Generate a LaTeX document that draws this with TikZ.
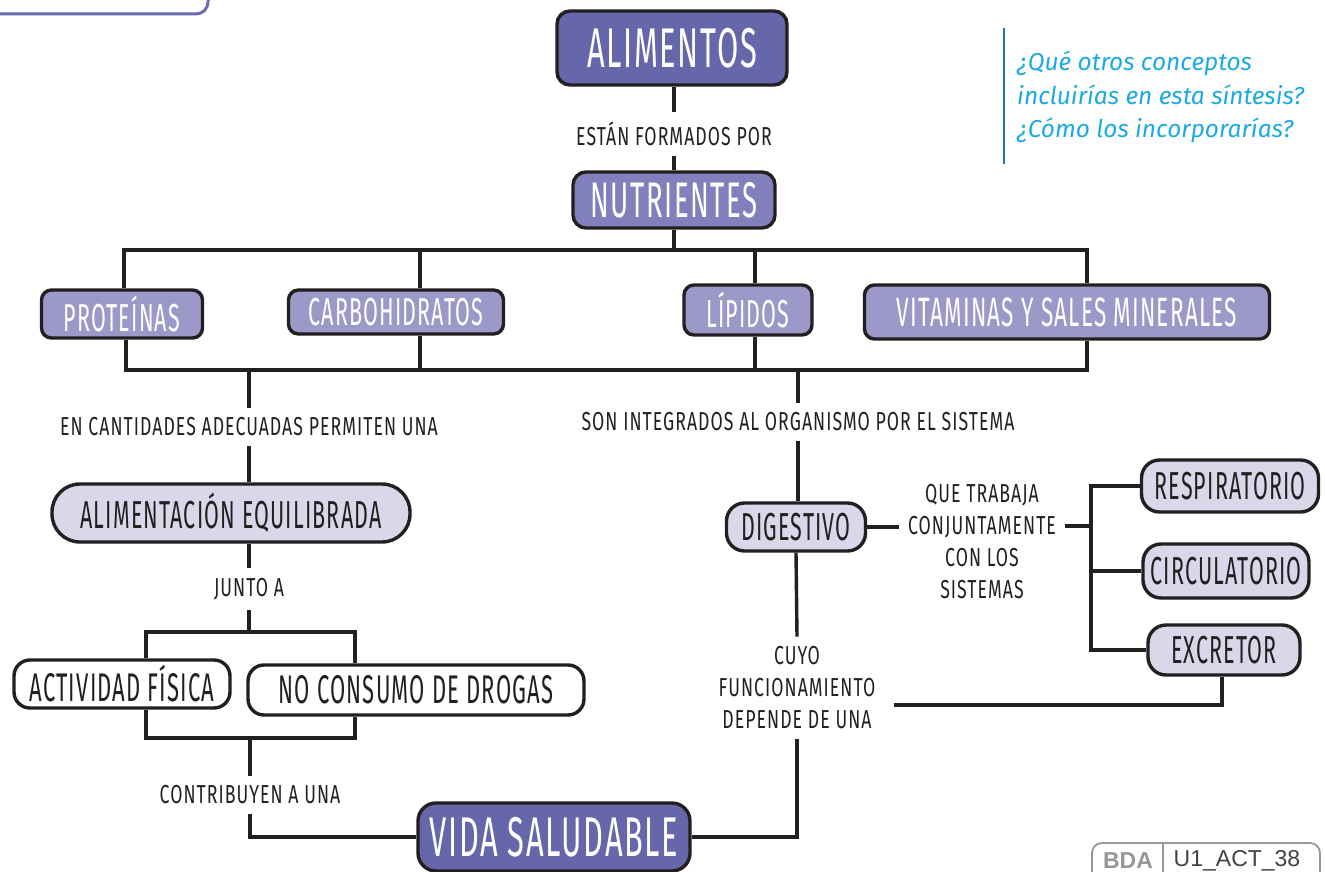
\documentclass[tikz,border=0pt]{standalone}
\usepackage{fontspec}
\setmainfont{Fira Sans}
\newfontfamily\handbox[FakeStretch=0.55,LetterSpace=3]{Fira Sans}
\newfontfamily\handlab[FakeStretch=0.68,LetterSpace=4]{Fira Sans}
\newfontfamily\qfont{Fira Sans}
\newfontfamily\tagfont{Liberation Sans}
\definecolor{ink}{RGB}{35,31,32}
\definecolor{cdark}{RGB}{101,103,170}
\definecolor{cnut}{RGB}{130,128,188}
\definecolor{cmed}{RGB}{156,152,200}
\definecolor{clight}{RGB}{217,216,235}
\definecolor{cpurp}{RGB}{107,107,176}
\definecolor{cq}{RGB}{29,169,225}
\definecolor{cbar}{RGB}{27,117,188}
\definecolor{cgray}{RGB}{150,150,150}
\tikzset{
  ln/.style={draw=ink, line width=3.4pt},
  bx/.style={draw=ink, line width=3.4pt, rounded corners=13pt, inner sep=0pt, align=center},
  dk/.style={bx, fill=cdark, text=white, font=\handbox\fontsize{56}{56}\selectfont},
  nu/.style={bx, fill=cnut, text=white, font=\handbox\fontsize{50}{50}\selectfont},
  md/.style={bx, fill=cmed, text=white, font=\handbox\fontsize{39}{39}\selectfont, rounded corners=10pt},
  lt/.style={bx, fill=clight, text=ink, font=\handbox\fontsize{39}{39}\selectfont, rounded corners=18pt},
  wt/.style={bx, fill=white, text=ink, font=\handbox\fontsize{40}{40}\selectfont, rounded corners=16pt},
  lb/.style={text=ink, font=\handlab\fontsize{26}{32}\selectfont, align=center, inner xsep=6pt, inner ysep=10pt},
}
\begin{document}
\begin{tikzpicture}[x=1pt,y=-1pt]
\useasboundingbox (0,0) rectangle (1325,872);
% decorations
\draw[draw=cpurp, line width=3pt, rounded corners=12pt] (-5,14) -- (208,14) -- (208,-10);
\draw[draw=cbar, line width=2.6pt] (1004,28) -- (1004,164);
\node[anchor=north west, inner sep=0pt, align=left, text=cq, font=\qfont\itshape\fontsize{24.5}{33.5}\selectfont] (q) at (1017,51)
  {¿Qué otros conceptos\\incluirías en esta síntesis?\\¿Cómo los incorporarías?};
\draw[draw=cgray, line width=1.8pt, rounded corners=10pt] (1092,890) -- (1092,843) -- (1320,843) -- (1320,890);
\draw[draw=cgray, line width=1.5pt] (1163,843) -- (1163,880);
\node[text=cgray, font=\tagfont\bfseries\fontsize{23}{23}\selectfont] (bda) at (1128,861) {BDA};
\node[text=ink!85, font=\tagfont\fontsize{23}{23}\selectfont] (code) at (1237,861) {U1\_ACT\_38};
% nodes
\node[dk, minimum width=230pt, minimum height=74pt] (alim) at (672,48) {ALIMENTOS};
\node[lb] (l1) at (674,134) {ESTÁN FORMADOS POR};
\node[nu, minimum width=202pt, minimum height=56pt] (nutr) at (674,200) {NUTRIENTES};
\node[md, minimum width=161pt, minimum height=48pt] (prot) at (122,314) {PROTEÍNAS};
\node[md, minimum width=215pt, minimum height=44pt] (carb) at (396,312) {CARBOHIDRATOS};
\node[md, minimum width=128pt, minimum height=50pt] (lip) at (748,310) {LÍPIDOS};
\node[md, minimum width=405pt, minimum height=54pt, font=\handbox\fontsize{41}{41}\selectfont] (vit) at (1067,312) {VITAMINAS Y SALES MINERALES};
\node[lb] (l2) at (249,427) {EN CANTIDADES ADECUADAS PERMITEN UNA};
\node[lb] (l3) at (798,422) {SON INTEGRADOS AL ORGANISMO POR EL SISTEMA};
\node[lt, minimum width=358pt, minimum height=58pt, rounded corners=28pt] (aeq) at (231,513) {ALIMENTACIÓN EQUILIBRADA};
\node[lb] (l4) at (249,589) {JUNTO A};
\node[wt, minimum width=216pt, minimum height=48pt] (act) at (122,684) {ACTIVIDAD FÍSICA};
\node[wt, minimum width=336pt, minimum height=50pt] (noc) at (416,690) {NO CONSUMO DE DROGAS};
\node[lb] (l5) at (250,795) {CONTRIBUYEN A UNA};
\node[dk, minimum width=272pt, minimum height=68pt, rounded corners=18pt] (vida) at (554,837) {VIDA SALUDABLE};
\node[lt, minimum width=139pt, minimum height=48pt] (dig) at (796,527) {DIGESTIVO};
\node[lb, inner xsep=9pt] (l6) at (982,542) {QUE TRABAJA\\CONJUNTAMENTE\\CON LOS\\SISTEMAS};
\node[lb] (l7) at (797,688) {CUYO\\FUNCIONAMIENTO\\DEPENDE DE UNA};
\node[lt, minimum width=177pt, minimum height=52pt] (resp) at (1230,486) {RESPIRATORIO};
\node[lt, minimum width=166pt, minimum height=54pt] (circ) at (1226,571) {CIRCULATORIO};
\node[lt, minimum width=152pt, minimum height=50pt] (excr) at (1224,650) {EXCRETOR};
% coordinates
\coordinate (t1) at (124,250); \coordinate (t2) at (420,250);
\coordinate (t3) at (755,250); \coordinate (t4) at (1087,250);
\coordinate (u1) at (126,370); \coordinate (u2) at (420,370);
\coordinate (u3) at (755,370); \coordinate (u4) at (1087,370);
\coordinate (u5) at (249,370); \coordinate (u6) at (798,370);
\coordinate (tl) at (146,632); \coordinate (tr) at (355,632);
\coordinate (bl) at (146,738); \coordinate (brr) at (355,738);
\coordinate (bm) at (250,738);
\coordinate (br) at (1091,526);
\coordinate (ex) at (1222,705);
% connectors
\draw[ln] (l1.north |- alim.south) -- (l1.north);
\draw[ln] (l1.south) -- (l1.south |- nutr.north);
\draw[ln] (nutr.south) -- (nutr.south |- t1);
\draw[ln] (t1 |- prot.north) -- (t1) -- (t4) -- (t4 |- vit.north);
\draw[ln] (t2) -- (t2 |- carb.north);
\draw[ln] (t3) -- (t3 |- lip.north);
\draw[ln] (u1 |- prot.south) -- (u1) -- (u4) -- (u4 |- vit.south);
\draw[ln] (u2 |- carb.south) -- (u2);
\draw[ln] (u3 |- lip.south) -- (u3);
\draw[ln] (u5) -- (l2.north);
\draw[ln] (u6) -- (l3.north);
\draw[ln] (l2.south) -- (l2.south |- aeq.north);
\draw[ln] (l3.south) -- (l3.south |- dig.north);
\draw[ln] (aeq.south -| l4.north) -- (l4.north);
\draw[ln] (l4.south) -- (l4.south |- tl);
\draw[ln] (act.north -| tl) -- (tl) -- (tr) -- (tr |- noc.north);
\draw[ln] (act.south -| bl) -- (bl) -- (brr) -- (brr |- noc.south);
\draw[ln] (bm) -- (l5.north);
\draw[ln] (l5.south) |- (vida.west);
\draw[ln] (l7.south) |- (vida.east);
\draw[ln] (dig.south) -- (l7.north);
\draw[ln] (dig.east) -- (dig.east -| l6.west);
\draw[ln] (l6.east |- br) -- (br);
\draw[ln] (resp.west) -- (resp.west -| br) -- (excr.west -| br) -- (excr.west);
\draw[ln] (circ.west -| br) -- (circ.west);
\draw[ln, shorten >=12pt] (excr.south -| ex) -- (ex) -- (ex -| l7.east);
\end{tikzpicture}
\end{document}
